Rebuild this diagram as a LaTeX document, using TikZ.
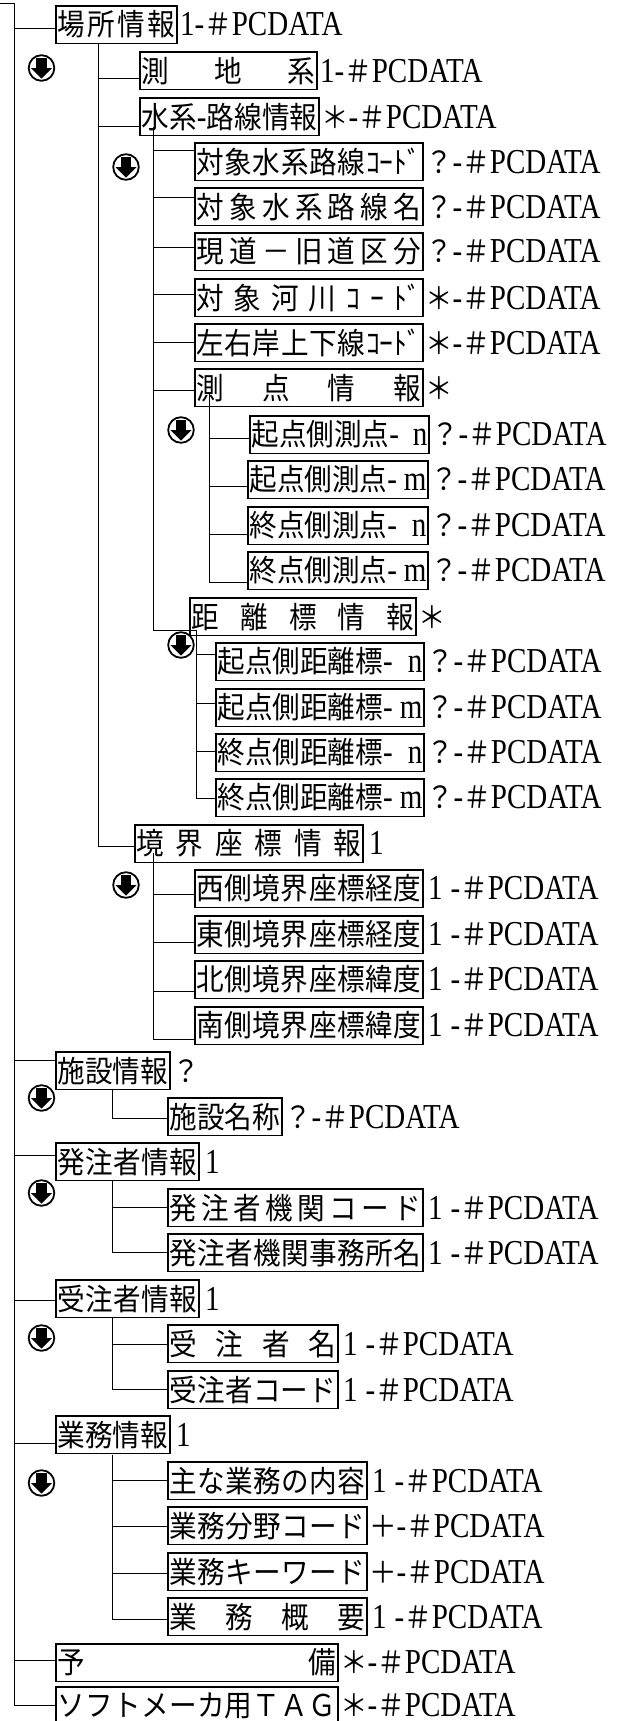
\documentclass[tikz,border=0pt]{standalone}
\usepackage{fontspec}
\newfontfamily\jpfam[FakeStretch=0.92]{Noto Sans CJK JP}
\newfontfamily\latfam[FakeStretch=0.83]{Liberation Serif}
\newcommand\jp{\jpfam\fontsize{30}{32}\selectfont}
\newcommand\lat{\latfam\fontsize{35}{37}\selectfont}
\newcommand\xf{\hfil}
\newcommand\jt[2]{\hbox to #1pt{\hskip1.5pt #2\hskip1.5pt}}
\newcommand\pcd[1]{#1{\lat-}＃{\lat PCDATA}}
\newcommand\numone{{\lat 1}}
\newcommand\wideone{\hskip4pt{\lat 1}\hskip8pt}
\newcommand\cn[3]{\draw[conn] (#1) |- ([yshift=#3pt]#2.west);}
\tikzset{
  box/.style={draw, line width=1.8pt, inner sep=0pt, minimum height=37.5pt, anchor=north west, font=\jp},
  sfx/.style={inner sep=0pt, anchor=base west, font=\jp},
  conn/.style={line width=0.9pt},
  dnicon/.pic={
    \draw[line width=1.8pt, fill=white] (0,0) circle[radius=12.8pt];
    \fill (-5.2,-10) rectangle (5.2,0.5);
    \fill (-10.5,0) -- (10.5,0) -- (0,10.5) -- cycle;
  }
}
\begin{document}
\begin{tikzpicture}[x=1pt,y=-1pt]
\useasboundingbox (0,0) rectangle (619,1721);
% ---------- boxes ----------
\node[box] (A) at (55,5) {\jt{121}{場\xf 所\xf 情\xf 報}};
\node[box] (B) at (139,51) {\jt{177}{測\xf 地\xf 系}};
\node[box] (C) at (139,97) {\jt{179}{水\xf 系\xf{\lat-}\xf 路\xf 線\xf 情\xf 報}};
\node[box] (D1) at (194,142) {\jt{228}{対\xf 象\xf 水\xf 系\xf 路\xf 線\xf ｺｰﾄﾞ}};
\node[box] (D2) at (194,187) {\jt{228}{対\xf 象\xf 水\xf 系\xf 路\xf 線\xf 名}};
\node[box] (D3) at (194,232) {\jt{228}{現\xf 道\xf －\xf 旧\xf 道\xf 区\xf 分}};
\node[box] (D4) at (194,278) {\jt{228}{対\xf 象\xf 河\xf 川\xf ｺ\xf ｰ\xf ﾄﾞ}};
\node[box] (D5) at (194,323) {\jt{228}{左\xf 右\xf 岸\xf 上\xf 下\xf 線\xf ｺｰﾄﾞ}};
\node[box] (D6) at (194,368) {\jt{228}{測\xf 点\xf 情\xf 報}};
\node[box] (E1) at (249,415) {\jt{179}{起点側測点{\lat-}\xf{\lat n}}};
\node[box] (E2) at (247,460) {\jt{180}{起点側測点{\lat-}\xf{\lat m}}};
\node[box] (E3) at (247,506) {\jt{180}{終点側測点{\lat-}\xf{\lat n}}};
\node[box] (E4) at (247,551) {\jt{180}{終点側測点{\lat-}\xf{\lat m}}};
\node[box] (F) at (189,597) {\jt{226}{距\xf 離\xf 標\xf 情\xf 報}};
\node[box] (G1) at (215,642) {\jt{208}{起点側距離標{\lat-}\xf{\lat n}}};
\node[box] (G2) at (215,688) {\jt{208}{起点側距離標{\lat-}\xf{\lat m}}};
\node[box] (G3) at (215,733) {\jt{208}{終点側距離標{\lat-}\xf{\lat n}}};
\node[box] (G4) at (215,778) {\jt{208}{終点側距離標{\lat-}\xf{\lat m}}};
\node[box] (H) at (134,824) {\jt{228}{境\xf 界\xf 座\xf 標\xf 情\xf 報}};
\node[box] (I1) at (194,869) {\jt{228}{西\xf 側\xf 境\xf 界\xf 座\xf 標\xf 経\xf 度}};
\node[box] (I2) at (194,915) {\jt{228}{東\xf 側\xf 境\xf 界\xf 座\xf 標\xf 経\xf 度}};
\node[box] (I3) at (194,960) {\jt{228}{北\xf 側\xf 境\xf 界\xf 座\xf 標\xf 緯\xf 度}};
\node[box] (I4) at (194,1006) {\jt{228}{南\xf 側\xf 境\xf 界\xf 座\xf 標\xf 緯\xf 度}};
\node[box] (J) at (55,1051) {\jt{114}{施\xf 設\xf 情\xf 報}};
\node[box] (J1) at (167,1097) {\jt{114}{施\xf 設\xf 名\xf 称}};
\node[box] (K) at (55,1142) {\jt{143}{発\xf 注\xf 者\xf 情\xf 報}};
\node[box] (K1) at (167,1188) {\jt{255}{発\xf 注\xf 者\xf 機\xf 関\xf コ\xf ー\xf ド}};
\node[box] (K2) at (167,1233) {\jt{255}{発\xf 注\xf 者\xf 機\xf 関\xf 事\xf 務\xf 所\xf 名}};
\node[box] (M) at (55,1279) {\jt{143}{受\xf 注\xf 者\xf 情\xf 報}};
\node[box] (M1) at (167,1324) {\jt{170}{受\xf 注\xf 者\xf 名}};
\node[box] (M2) at (167,1370) {\jt{170}{受\xf 注\xf 者\xf コ\xf ー\xf ド}};
\node[box] (N) at (55,1415) {\jt{114}{業\xf 務\xf 情\xf 報}};
\node[box] (N1) at (167,1461) {\jt{199}{主\xf な\xf 業\xf 務\xf の\xf 内\xf 容}};
\node[box] (N2) at (167,1506) {\jt{199}{業\xf 務\xf 分\xf 野\xf コ\xf ー\xf ド}};
\node[box] (N3) at (167,1552) {\jt{199}{業\xf 務\xf キ\xf ー\xf ワ\xf ー\xf ド}};
\node[box] (N4) at (167,1597) {\jt{199}{業\xf 務\xf 概\xf 要}};
\node[box] (P) at (55,1643) {\jt{282}{予\xf 備}};
\node[box] (Q) at (55,1686) {\jt{282}{ソ\xf フ\xf ト\xf メ\xf ー\xf カ\xf 用\xf Ｔ\xf Ａ\xf Ｇ}};
% ---------- suffixes ----------
\node[sfx] (As) at ([xshift=2pt]A.base east) {\pcd{\numone}};
\node[sfx] (Bs) at ([xshift=2pt]B.base east) {\pcd{\numone}};
\node[sfx] (Cs) at ([xshift=1pt]C.base east) {\pcd{＊}};
\node[sfx] (D1s) at ([xshift=1pt]D1.base east) {\pcd{？}};
\node[sfx] (D2s) at ([xshift=1pt]D2.base east) {\pcd{？}};
\node[sfx] (D3s) at ([xshift=1pt]D3.base east) {\pcd{？}};
\node[sfx] (D4s) at ([xshift=1pt]D4.base east) {\pcd{＊}};
\node[sfx] (D5s) at ([xshift=1pt]D5.base east) {\pcd{＊}};
\node[sfx] (D6s) at ([xshift=1pt]D6.base east) {＊};
\node[sfx] (E1s) at ([xshift=1pt]E1.base east) {\pcd{？}};
\node[sfx] (E2s) at ([xshift=1pt]E2.base east) {\pcd{？}};
\node[sfx] (E3s) at ([xshift=1pt]E3.base east) {\pcd{？}};
\node[sfx] (E4s) at ([xshift=1pt]E4.base east) {\pcd{？}};
\node[sfx] (Fs) at ([xshift=1pt]F.base east) {＊};
\node[sfx] (G1s) at ([xshift=1pt]G1.base east) {\pcd{？}};
\node[sfx] (G2s) at ([xshift=1pt]G2.base east) {\pcd{？}};
\node[sfx] (G3s) at ([xshift=1pt]G3.base east) {\pcd{？}};
\node[sfx] (G4s) at ([xshift=1pt]G4.base east) {\pcd{？}};
\node[sfx] (Hs) at ([xshift=5pt]H.base east) {\numone};
\node[sfx] (I1s) at (I1.base east) {\pcd{\wideone}};
\node[sfx] (I2s) at (I2.base east) {\pcd{\wideone}};
\node[sfx] (I3s) at (I3.base east) {\pcd{\wideone}};
\node[sfx] (I4s) at (I4.base east) {\pcd{\wideone}};
\node[sfx] (Js) at ([xshift=1pt]J.base east) {？};
\node[sfx] (J1s) at ([xshift=1pt]J1.base east) {\pcd{？}};
\node[sfx] (Ks) at ([xshift=5pt]K.base east) {\numone};
\node[sfx] (K1s) at (K1.base east) {\pcd{\wideone}};
\node[sfx] (K2s) at (K2.base east) {\pcd{\wideone}};
\node[sfx] (Ms) at ([xshift=5pt]M.base east) {\numone};
\node[sfx] (M1s) at (M1.base east) {\pcd{\wideone}};
\node[sfx] (M2s) at (M2.base east) {\pcd{\wideone}};
\node[sfx] (Ns) at ([xshift=5pt]N.base east) {\numone};
\node[sfx] (N1s) at (N1.base east) {\pcd{\wideone}};
\node[sfx] (N2s) at ([xshift=1pt]N2.base east) {\pcd{＋}};
\node[sfx] (N3s) at ([xshift=1pt]N3.base east) {\pcd{＋}};
\node[sfx] (N4s) at (N4.base east) {\pcd{\wideone}};
\node[sfx] (Ps) at ([xshift=1pt]P.base east) {\pcd{＊}};
\node[sfx] (Qs) at ([xshift=1pt]Q.base east) {\pcd{＊}};
% ---------- trunks ----------
\coordinate (R0) at (0,3);
\coordinate (R) at (14,3);
\coordinate (L1) at (98,42.5);
\coordinate (L2) at (153,127);
\coordinate (L3) at (209,393);
\coordinate (L4) at (196,630);
\coordinate (L5) at (153,853);
\coordinate (L6a) at (112,1088.5);
\coordinate (L6b) at (112,1179.5);
\coordinate (L6c) at (112,1316.5);
\coordinate (L6d) at (112,1455);
% ---------- connectors ----------
\draw[conn] (R0) -- (R);
\cn{R}{A}{-4.25}
\cn{R}{J}{9.75}
\cn{R}{K}{5.75}
\cn{R}{M}{-2.25}
\cn{R}{N}{-9.25}
\cn{R}{P}{1.75}
\cn{R}{Q}{0}
\cn{L1}{B}{-8.25}
\cn{L1}{C}{-10.25}
\cn{L1}{H}{-3.25}
\cn{L2}{D1}{10.75}
\cn{L2}{D2}{8.75}
\cn{L2}{D3}{3.75}
\cn{L2}{D4}{2.75}
\cn{L2}{D5}{-0.25}
\cn{L2}{D6}{-3.25}
\draw[conn] (L2) |- (L4);
\cn{L3}{E1}{-4.25}
\cn{L3}{E2}{-7.25}
\cn{L3}{E3}{-9.25}
\cn{L3}{E4}{-12.25}
\cn{L4}{G1}{6.75}
\cn{L4}{G2}{3.75}
\cn{L4}{G3}{0.75}
\cn{L4}{G4}{-1.25}
\cn{L5}{I1}{-6.25}
\cn{L5}{I2}{-8.25}
\cn{L5}{I3}{-12.25}
\cn{L5}{I4}{-14.25}
\cn{L6a}{J1}{-2.25}
\cn{L6b}{K1}{-0.25}
\cn{L6b}{K2}{-0.25}
\cn{L6c}{M1}{-1.25}
\cn{L6c}{M2}{-0.25}
\cn{L6d}{N1}{-0.25}
\cn{L6d}{N2}{-1.25}
\cn{L6d}{N3}{-2.25}
\cn{L6d}{N4}{-3.25}
% ---------- icons ----------
\pic at (41.5,68) {dnicon};
\pic at (126,167) {dnicon};
\pic at (181,430) {dnicon};
\pic at (181,645) {dnicon};
\pic at (126,885) {dnicon};
\pic at (41.5,1098) {dnicon};
\pic at (41.5,1193) {dnicon};
\pic at (41.5,1338) {dnicon};
\pic at (41.5,1483) {dnicon};
\end{tikzpicture}
\end{document}
